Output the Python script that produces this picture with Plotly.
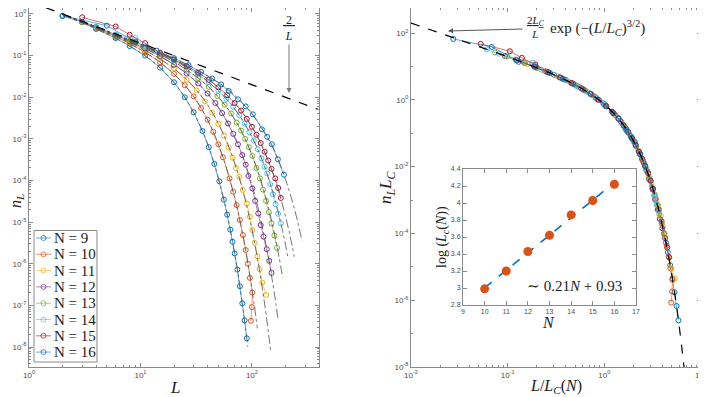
import numpy as np
import plotly.graph_objects as go

sizes_N = [9, 10, 11, 12, 13, 14, 15, 16]
colors = ['#0072BD', '#D95319', '#EDB120', '#7E2F8E', '#77AC30', '#4DBEEE', '#A2142F', '#0072BD']

# cluster length L and log10(n_L)
L_9 = [2, 3, 4, 6, 8, 11, 15, 20, 25, 30, 36, 41, 46, 51, 56, 60, 64, 67, 70, 74, 78, 82, 86, 90]
logn_9 = [-0.05, -0.19, -0.36, -0.58, -0.77, -1.00, -1.29, -1.64, -2.00, -2.36, -2.81, -3.20,
          -3.60, -4.02, -4.46, -4.82, -5.18, -5.47, -5.75, -6.14, -6.54, -6.95, -7.36, -7.79]
L_10 = [3, 4, 6, 8, 11, 15, 20, 25, 30, 35, 40, 45, 50, 55, 63, 68, 73, 78, 83, 88, 92, 96, 101, 100, 98]
logn_10 = [-0.20, -0.34, -0.55, -0.71, -0.92, -1.16, -1.44, -1.71, -1.98, -2.26, -2.54, -2.83, -3.13,
           -3.44, -3.95, -4.27, -4.59, -4.95, -5.31, -5.67, -6.00, -6.34, -6.69, -7.04, -7.37]
L_11 = [3, 4, 6, 8, 11, 15, 20, 26, 32, 38, 44, 50, 56, 62, 67, 72, 77, 83, 90, 96, 101, 106, 112, 117, 124, 134]
logn_11 = [-0.19, -0.33, -0.53, -0.68, -0.87, -1.08, -1.31, -1.58, -1.84, -2.10, -2.37, -2.64, -2.92,
           -3.21, -3.45, -3.70, -3.91, -4.23, -4.55, -4.87, -5.19, -5.50, -5.82, -6.13, -6.45, -6.75]
L_12 = [3, 4, 6, 8, 11, 15, 20, 26, 33, 40, 47, 54, 61, 68, 75, 82, 88, 93, 101, 107, 114, 120, 127, 136, 143, 150]
logn_12 = [-0.19, -0.32, -0.51, -0.66, -0.83, -1.01, -1.22, -1.43, -1.67, -1.91, -2.14, -2.38, -2.63,
           -2.88, -3.13, -3.39, -3.62, -3.89, -4.19, -4.49, -4.79, -5.07, -5.35, -5.65, -5.93, -6.22]
L_13 = [3, 4, 6, 8, 11, 15, 20, 26, 33, 41, 49, 57, 65, 73, 80, 87, 94, 101, 110, 118, 126, 134, 142, 150, 159, 168]
logn_13 = [-0.19, -0.31, -0.50, -0.64, -0.80, -0.97, -1.15, -1.34, -1.54, -1.75, -1.97, -2.18, -2.39,
           -2.61, -2.80, -3.00, -3.20, -3.41, -3.70, -3.95, -4.22, -4.49, -4.76, -5.03, -5.32, -5.62]
L_14 = [3, 4, 6, 9, 11, 15, 20, 26, 33, 41, 50, 59, 68, 77, 86, 95, 104, 113, 122, 130, 137, 146, 154, 163, 172, 182]
logn_14 = [-0.18, -0.31, -0.50, -0.58, -0.79, -0.95, -1.11, -1.28, -1.45, -1.64, -1.84, -2.04, -2.23,
           -2.43, -2.63, -2.84, -3.04, -3.25, -3.47, -3.67, -3.83, -4.09, -4.33, -4.57, -4.80, -5.03]
L_15 = [3, 6, 8, 11, 15, 20, 26, 33, 41, 50, 60, 70, 80, 90, 100, 110, 120, 130, 140, 150, 162, 172, 182]
logn_15 = [-0.08, -0.30, -0.50, -0.70, -0.93, -1.09, -1.25, -1.41, -1.58, -1.76, -1.95, -2.14,
           -2.32, -2.52, -2.71, -2.90, -3.10, -3.31, -3.52, -3.72, -3.95, -4.18, -4.42]
L_16 = [2, 5, 9, 14, 20, 27, 35, 44, 53, 62, 75, 88, 102, 123, 137, 151, 171, 194]
logn_16 = [-0.04, -0.28, -0.67, -0.88, -1.06, -1.23, -1.39, -1.55, -1.69, -1.85, -2.05, -2.22,
           -2.41, -2.77, -2.95, -3.13, -3.49, -3.86]

# grey dash-dot fit curves (L, log10 n_L)
fit_L_9 = [2, 4, 8, 15, 25, 36, 46, 56, 64, 74, 82, 92]
fit_9 = [-0.02, -0.36, -0.77, -1.29, -2.00, -2.81, -3.60, -4.46, -5.18, -6.14, -6.95, -8.00]
fit_L_10 = [2, 4, 8, 15, 25, 35, 45, 55, 65, 75, 85, 95, 104, 112]
fit_10 = [-0.01, -0.34, -0.71, -1.16, -1.71, -2.26, -2.83, -3.44, -4.08, -4.75, -5.46, -6.21, -6.91, -7.55]
fit_L_11 = [2, 4, 8, 15, 25, 35, 45, 55, 65, 75, 85, 95, 105, 115, 125, 135, 148]
fit_11 = [-0.01, -0.33, -0.68, -1.08, -1.53, -1.96, -2.40, -2.86, -3.33, -3.83, -4.35, -4.89,
          -5.46, -6.04, -6.65, -7.28, -8.13]
fit_L_12 = [2, 4, 8, 15, 26, 40, 54, 68, 82, 96, 110, 124, 138, 152, 164, 171]
fit_12 = [-0.01, -0.32, -0.66, -1.01, -1.43, -1.91, -2.38, -2.88, -3.39, -3.94, -4.51, -5.11,
          -5.73, -6.38, -6.95, -7.30]
fit_L_13 = [2, 4, 8, 15, 26, 41, 57, 73, 87, 101, 115, 130, 145, 160, 175, 189]
fit_13 = [-0.01, -0.31, -0.64, -0.97, -1.34, -1.75, -2.18, -2.61, -3.00, -3.41, -3.83, -4.30,
          -4.79, -5.30, -5.83, -6.34]
fit_L_14 = [2, 4, 8, 15, 26, 41, 59, 77, 95, 113, 130, 150, 170, 190, 211]
fit_14 = [0.00, -0.31, -0.63, -0.95, -1.28, -1.64, -2.04, -2.43, -2.84, -3.25, -3.67, -4.17, -4.70, -5.25, -5.86]
fit_L_15 = [2, 4, 8, 15, 26, 41, 60, 80, 100, 120, 140, 160, 180, 200, 220, 240]
fit_15 = [0.00, -0.31, -0.63, -0.93, -1.25, -1.58, -1.95, -2.32, -2.71, -3.10, -3.52, -3.95,
          -4.39, -4.86, -5.33, -5.83]
fit_L_16 = [2, 4, 8, 15, 26, 41, 62, 83, 104, 125, 150, 175, 200, 225, 250, 282]
fit_16 = [0.00, -0.31, -0.62, -0.92, -1.21, -1.50, -1.83, -2.15, -2.46, -2.77, -3.15, -3.55,
          -3.97, -4.40, -4.85, -5.45]

# L_C used to collapse the curves in the right panel
lc_scale = [15.4, 19.9, 25.0, 32.0, 40.6, 49.4, 57.0, 73.0]

# 2/L guide line (left) and scaled master curve (right)
guide_L = [1, 400]
guide_n = [2, 0.005]
master_x = [0.01, 0.03, 0.1, 0.2, 0.4, 0.7, 1.0, 1.5, 2.0, 2.5, 3.0, 3.5, 4.0, 4.5, 5.0, 5.5, 6.0, 6.5, 6.7]
master_logy = [2.30, 1.82, 1.29, 0.96, 0.59, 0.20, -0.13, -0.67, -1.23, -1.81, -2.43, -3.09,
               -3.78, -4.50, -5.25, -6.04, -6.86, -7.71, -8.06]

# inset
inset_N = [10, 11, 12, 13, 14, 15, 16]
inset_logLc = [2.99, 3.20, 3.43, 3.62, 3.86, 4.03, 4.22]

L_all = [L_9, L_10, L_11, L_12, L_13, L_14, L_15, L_16]
logn_all = [logn_9, logn_10, logn_11, logn_12, logn_13, logn_14, logn_15, logn_16]
fit_L_all = [fit_L_9, fit_L_10, fit_L_11, fit_L_12, fit_L_13, fit_L_14, fit_L_15, fit_L_16]
fit_all = [fit_9, fit_10, fit_11, fit_12, fit_13, fit_14, fit_15, fit_16]


def faded(hexcol, a=0.6):
    h = hexcol.lstrip('#')
    r, g, b = int(h[0:2], 16), int(h[2:4], 16), int(h[4:6], 16)
    return f'rgba({r},{g},{b},{a})'


# the page puts the figure 8px in from the top-left corner, so positions are shifted by that
W, H = 706, 397
OFF = 8
def px(x):
    return (x - OFF) / W
def py(y):
    return 1 - (y - OFF) / H


fig = go.Figure()

# left panel: data
for i, N in enumerate(sizes_N):
    fig.add_trace(go.Scatter(
        x=L_all[i], y=10.0 ** np.array(logn_all[i]), mode='lines+markers', name=f'N = {N}',
        line=dict(color=faded(colors[i]), width=1),
        marker=dict(symbol='circle-open', size=5, color=colors[i], line=dict(width=1)),
        xaxis='x', yaxis='y'))

# left panel: fits
for i in range(len(sizes_N)):
    fig.add_trace(go.Scatter(
        x=fit_L_all[i], y=10.0 ** np.array(fit_all[i]), mode='lines',
        line=dict(color='#505050', width=0.8, dash='dashdot', shape='spline'),
        xaxis='x', yaxis='y'))

fig.add_trace(go.Scatter(x=guide_L, y=guide_n, mode='lines',
                         line=dict(color='black', width=1.2, dash='dash'), xaxis='x', yaxis='y'))

# right panel: collapsed data
for i, N in enumerate(sizes_N):
    fig.add_trace(go.Scatter(
        x=np.array(L_all[i]) / lc_scale[i], y=10.0 ** np.array(logn_all[i]) * lc_scale[i],
        mode='lines+markers',
        line=dict(color=faded(colors[i]), width=1),
        marker=dict(symbol='circle-open', size=5, color=colors[i], line=dict(width=1)),
        xaxis='x2', yaxis='y2'))

fig.add_trace(go.Scatter(x=master_x, y=10.0 ** np.array(master_logy), mode='lines',
                         line=dict(color='black', width=1.2, dash='dash', shape='spline'),
                         xaxis='x2', yaxis='y2'))

# inset
slope, icpt = np.polyfit(inset_N, inset_logLc, 1)
fit_N = [inset_N[0], inset_N[-1]]
fig.add_trace(go.Scatter(x=fit_N, y=[slope * n + icpt for n in fit_N], mode='lines',
                         line=dict(color='#0072BD', width=1.6, dash='dash'), xaxis='x3', yaxis='y3'))
fig.add_trace(go.Scatter(x=inset_N, y=inset_logLc, mode='markers',
                         marker=dict(color='#D95319', size=9), xaxis='x3', yaxis='y3'))

# legend drawn by hand on a pixel overlay (x4/y4), so it can be as compact as the original
leg_top, leg_step = 238, 16.3
for i, N in enumerate(sizes_N):
    yc = leg_top + i * leg_step
    fig.add_trace(go.Scatter(
        x=[36, 43.5, 51], y=[yc, yc, yc], mode='lines+markers',
        line=dict(color=faded(colors[i]), width=1),
        marker=dict(symbol='circle-open', size=[0, 5, 0], color=colors[i], line=dict(width=1)),
        xaxis='x4', yaxis='y4'))
    fig.add_annotation(xref='x4', yref='y4', x=52, y=yc, text=f'N = {N}', showarrow=False,
                       xanchor='left', yanchor='middle',
                       font=dict(family='Liberation Serif', size=15, color='#222'))

frame = '#8a8a8a'
fig.add_shape(type='rect', xref='x4', yref='y4', x0=34, x1=97, y0=230.5, y1=362,
              line=dict(color=frame, width=1), fillcolor='white', layer='below')

tickfont = dict(family='Liberation Sans', size=8, color='#4d4d4d')
base = dict(showline=True, linecolor=frame, linewidth=1, mirror='ticks', ticks='inside',
            ticklen=4, tickcolor=frame, showgrid=False, zeroline=False, tickfont=tickfont,
            automargin=False)


def log_axis(exps, lo, hi, minor_all=True):
    vals = [10.0 ** e for e in exps]
    text = [f'10<sup>{e}</sup>' for e in exps]
    if minor_all:
        mv = [m * 10.0 ** e for e in range(int(np.floor(lo)), int(np.ceil(hi)) + 1) for m in range(2, 10)]
    else:
        mv = [10.0 ** e for e in range(int(np.floor(lo)), int(np.ceil(hi)) + 1) if e not in exps]
    mv = [v for v in mv if 10 ** lo <= v <= 10 ** hi]
    return dict(base, type='log', range=[lo, hi], tickvals=vals, ticktext=text,
                minor=dict(tickvals=mv, ticks='inside', ticklen=2, tickcolor=frame, showgrid=False))


# the top 7px strip of the reference cannot be drawn, so the ranges start just below it
ydom = [py(367), 1.0]
fig.update_layout(
    width=W, height=H, margin=dict(l=0, r=0, t=0, b=0, autoexpand=False),
    paper_bgcolor='white', plot_bgcolor='rgba(0,0,0,0)', showlegend=False,
    xaxis=dict(log_axis([0, 1, 2], 0, np.log10(400)), domain=[px(29), px(319)], anchor='y'),
    yaxis=dict(log_axis(list(range(-8, 1)), -8.48, 0.144), domain=ydom, anchor='x'),
    xaxis2=dict(log_axis([-2, -1, 0, 1], -2, 1), domain=[px(411), px(701)], anchor='y2'),
    yaxis2=dict(log_axis([-8, -6, -4, -2, 0, 2], -8, 2.75, minor_all=False), domain=ydom, anchor='x2'),
    xaxis3=dict(base, range=[9, 17], dtick=1, domain=[px(463), px(636)], anchor='y3',
                tickfont=dict(tickfont, size=7)),
    yaxis3=dict(base, range=[2.8, 4.4], dtick=0.2, domain=[py(305), py(169)], anchor='x3',
                tickfont=dict(tickfont, size=7)),
    xaxis4=dict(domain=[0, 1], range=[OFF, W + OFF], visible=False, anchor='y4', fixedrange=True),
    yaxis4=dict(domain=[0, 1], range=[H + OFF, OFF], visible=False, anchor='x4', fixedrange=True),
)

serif = 'Liberation Serif'
ann = [
    dict(x=16, y=201, text='<i>n<sub>L</sub></i>', textangle=-90, size=16),
    dict(x=175, y=387, text='<i>L</i>', size=17),
    dict(x=387, y=187, text='<i>n<sub>L</sub>L<sub>C</sub></i>', textangle=-90, size=17),
    dict(x=556, y=386, text='<i>L</i>/<i>L<sub>C</sub></i>(<i>N</i>)', size=16),
    dict(x=548, y=322, text='<i>N</i>', size=16),
    dict(x=442, y=237, text='log (<i>L<sub>c</sub></i>(<i>N</i>))', textangle=-90, size=14),
    dict(x=574, y=286, text='∼ 0.21<i>N</i> + 0.93', size=15),
    dict(x=289, y=28, text="<span style='text-decoration:underline'>&nbsp;2&nbsp;</span><br><i>L</i>", size=12),
    dict(x=536, y=27, text="<span style='text-decoration:underline'>2<i>L<sub>C</sub></i></span><br><i>L</i>",
         size=11),
    dict(x=548, y=28, text='exp (−(<i>L</i>/<i>L<sub>C</sub></i>)<sup>3/2</sup>)', size=15, xanchor='left'),
]
for a in ann:
    size = a.pop('size')
    xa = a.pop('xanchor', 'center')
    fig.add_annotation(xref='x4', yref='y4', showarrow=False, xanchor=xa, yanchor='middle',
                       font=dict(family=serif, size=size, color='#222'), **a)

# arrows
fig.add_annotation(xref='x4', yref='y4', axref='x4', ayref='y4', x=289, y=93, ax=289, ay=43, text='',
                   showarrow=True, arrowhead=2, arrowsize=1, arrowwidth=1, arrowcolor='#777')
fig.add_annotation(xref='x4', yref='y4', axref='x4', ayref='y4', x=448, y=31, ax=524, ay=29, text='',
                   showarrow=True, arrowhead=2, arrowsize=1, arrowwidth=1, arrowcolor='#555')

fig.write_html('out.html')
